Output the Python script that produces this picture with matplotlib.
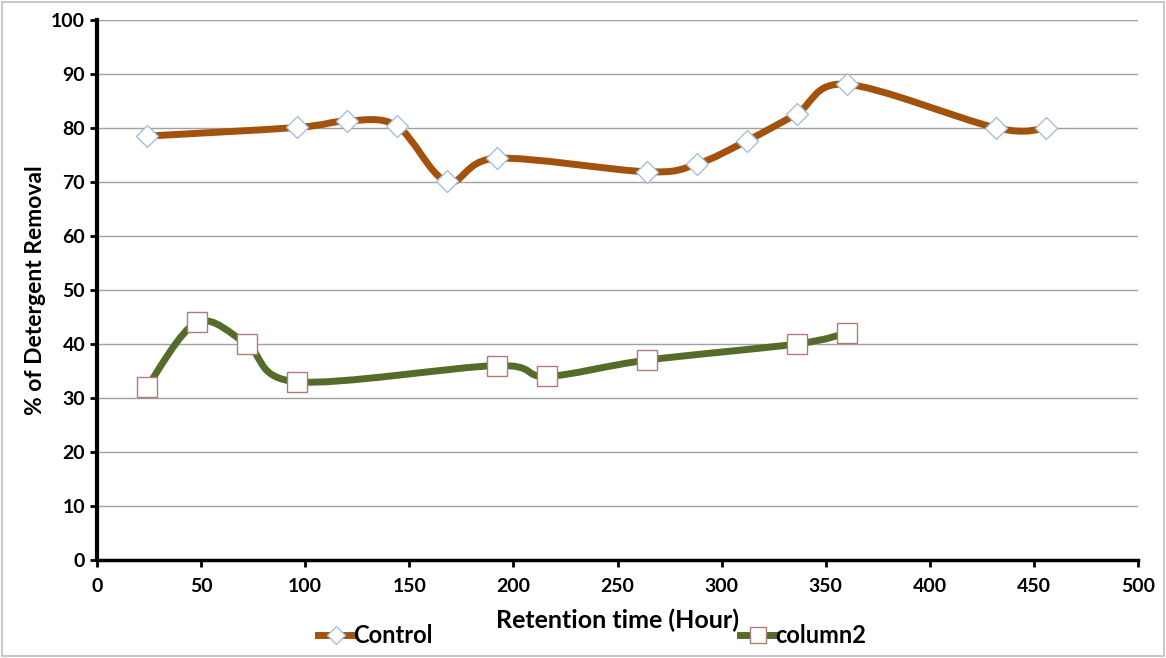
import numpy as np
import matplotlib.pyplot as plt
from matplotlib.path import Path
from matplotlib.patches import PathPatch
from matplotlib.lines import Line2D

# Data
control_hours = [24, 96, 120, 144, 168, 192, 264, 288, 312, 336, 360, 432, 456]
control_removal = [78.5, 80.1, 81.3, 80.4, 70.1, 74.4, 71.9, 73.3, 77.6, 82.6, 88.1, 80.0, 80.0]

column2_hours = [24, 48, 72, 96, 192, 216, 264, 336, 360]
column2_removal = [32, 44, 40, 33, 36, 34, 37, 40, 42]

x_ticks = [0, 50, 100, 150, 200, 250, 300, 350, 400, 450, 500]
y_ticks = [0, 10, 20, 30, 40, 50, 60, 70, 80, 90, 100]

CONTROL_COLOR = '#A2520C'
COLUMN2_COLOR = '#556B2A'

plt.rcParams['font.family'] = ['Lato', 'DejaVu Sans']


# Excel-like smoothed line: cubic Bezier through every point
def smooth_path(xs, ys):
    pts = np.column_stack([xs, ys]).astype(float)
    n = len(pts)
    verts = [pts[0]]
    codes = [Path.MOVETO]
    for i in range(n - 1):
        p0 = pts[i - 1] if i > 0 else pts[i]
        p1 = pts[i]
        p2 = pts[i + 1]
        p3 = pts[i + 2] if i + 2 < n else pts[i + 1]
        c1 = p1 + (p2 - p0) / 6.0
        c2 = p2 - (p3 - p1) / 6.0
        verts += [c1, c2, p2]
        codes += [Path.CURVE4] * 3
    return Path(verts, codes)


fig = plt.figure(figsize=(11.66, 6.58), dpi=100)
ax = fig.add_axes([0.0832, 0.149, 0.8928, 0.8206])

for xs, ys, color in [(control_hours, control_removal, CONTROL_COLOR),
                      (column2_hours, column2_removal, COLUMN2_COLOR)]:
    patch = PathPatch(smooth_path(xs, ys), facecolor='none', edgecolor=color,
                      lw=5, capstyle='round', joinstyle='round', zorder=3)
    ax.add_patch(patch)

ax.plot(control_hours, control_removal, linestyle='none', marker='D', ms=11,
        mfc='white', mec='#A9BFD6', mew=1.0, zorder=4)
ax.plot(column2_hours, column2_removal, linestyle='none', marker='s', ms=15,
        mfc='white', mec='#B57A78', mew=1.0, zorder=4)

ax.set_xlim(0, 500)
ax.set_ylim(0, 100)
ax.set_xticks(x_ticks)
ax.set_yticks(y_ticks)
ax.tick_params(labelsize=14, width=2, length=5, direction='out')
ax.tick_params(axis='x', pad=8)
for lbl in ax.get_xticklabels() + ax.get_yticklabels():
    lbl.set_fontweight('bold')

ax.yaxis.grid(True, color='#A0A0A0', lw=1.0)
ax.set_axisbelow(True)
for side in ['top', 'right']:
    ax.spines[side].set_visible(False)
ax.spines['left'].set_linewidth(3)
ax.spines['bottom'].set_linewidth(2.5)

ax.set_xlabel('Retention time (Hour)', fontsize=18, fontweight='bold', labelpad=10)
ax.set_ylabel('% of Detergent Removal', fontsize=16.5, fontweight='bold', labelpad=4)

handles = [
    Line2D([], [], color=CONTROL_COLOR, lw=5, marker='D', ms=9,
           mfc='white', mec='#A9BFD6'),
    Line2D([], [], color=COLUMN2_COLOR, lw=5, marker='s', ms=11,
           mfc='white', mec='#B57A78'),
]
fig.legend(handles, ['Control', 'column2'], loc='center', ncol=2,
           bbox_to_anchor=(0.508, 0.034), frameon=False, handlelength=1.5,
           handletextpad=0.0, columnspacing=13.0,
           prop={'size': 17, 'weight': 'bold'})

# light border around the whole picture
fig.patches.append(plt.Rectangle((0.002, 0.003), 0.996, 0.994, transform=fig.transFigure,
                                 fill=False, edgecolor='#BDBDBD', lw=1.2))

fig.savefig('out.png', dpi=100)
